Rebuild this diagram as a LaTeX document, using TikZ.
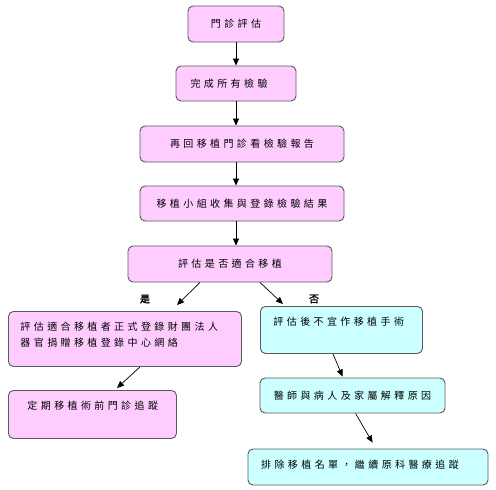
\documentclass[tikz,border=0pt]{standalone}
\usepackage{fontspec}
\usetikzlibrary{arrows.meta,calc}
\newfontfamily\cjk[LetterSpace=34]{Noto Sans CJK TC}
\newfontfamily\cjkb[FakeBold=2]{Noto Sans CJK TC}
\definecolor{pinkfill}{HTML}{FFCCFF}
\definecolor{cyanfill}{HTML}{CCFFFF}
\definecolor{edge}{HTML}{5A5A5A}
\newcommand\toptext[4]{\parbox[c][#2][t]{#1}{\vspace*{11pt}\baselineskip=15.5pt\raggedright\leftskip=#3\relax #4\par}}
\tikzset{
  box/.style={draw=edge, line width=0.9pt, rounded corners=5pt, inner sep=0pt, font=\cjk\fontsize{10}{12}\selectfont},
  pinkbox/.style={box, fill=pinkfill},
  cyanbox/.style={box, fill=cyanfill},
  conn/.style={black, line width=0.7pt, -{Triangle[length=7pt,width=6pt]}},
  lab/.style={font=\cjkb\fontsize{10}{12}\selectfont, inner sep=0pt}
}
\begin{document}
\begin{tikzpicture}[x=1pt,y=-1pt]
\useasboundingbox[fill=white] (0,0) rectangle (496,490);
\node[pinkbox, minimum width=96pt, minimum height=36pt] (n1) at (236,24) {門診評估};
\node[pinkbox, minimum width=120pt, minimum height=35pt] (n2) at (236,83.5) {\hspace*{-14pt}完成所有檢驗};
\node[pinkbox, minimum width=204pt, minimum height=36pt] (n3) at (242,144) {再回移植門診看檢驗報告};
\node[pinkbox, minimum width=204pt, minimum height=35pt] (n4) at (242,203.5) {移植小組收集與登錄檢驗結果};
\node[pinkbox, minimum width=204pt, minimum height=36pt] (n5) at (230,264) {評估是否適合移植};
\node[pinkbox, anchor=north west] (n6) at (8,311) {\toptext{233pt}{55pt}{12pt}{評估適合移植者正式登錄財團法人\\器官捐贈移植登錄中心網絡}};
\node[cyanbox, anchor=north west] (n7) at (260,306) {\toptext{162pt}{47pt}{13pt}{評估後不宜作移植手術}};
\node[pinkbox, anchor=north west] (n8) at (8,390) {\toptext{168pt}{48pt}{19pt}{定期移植術前門診追蹤}};
\node[cyanbox, minimum width=185pt, minimum height=35pt] (n9) at (352.5,395.5) {醫師與病人及家屬解釋原因};
\node[cyanbox, minimum width=240pt, minimum height=36pt] (n10) at (368,467) {\hspace*{-16pt}\raisebox{5pt}{排除移植名單，繼續原科醫療追蹤}};
\draw[conn] (n1) -- (n2);
\draw[conn] (n2.south) -- (n3.north -| n2.south);
\draw[conn] (n3.south -| n2.south) -- (n4.north -| n2.north);
\draw[conn] (n4.south -| n2.south) -- (n5.north -| n2.north);
\draw[conn] ($(n5.south)+(-30,0)$) -- ($(n6.north west)+(169,-6)$);
\draw[conn] ($(n5.south)+(30,0)$) -- ($(n7.north west)+(23,-2)$);
\draw[conn] ($(n6.south west)+(132,0)$) -- ($(n8.north west)+(109,-2)$);
\draw[conn] ($(n7.south west)+(73,0)$) -- ($(n9.north west)+(83,-1)$);
\draw[conn] ($(n9.south west)+(96,0)$) -- ($(n10.north west)+(125,-6)$);
\node[lab] (yes) at (145,299) {是};
\node[lab] (no) at (314,299) {否};
\end{tikzpicture}
\end{document}
